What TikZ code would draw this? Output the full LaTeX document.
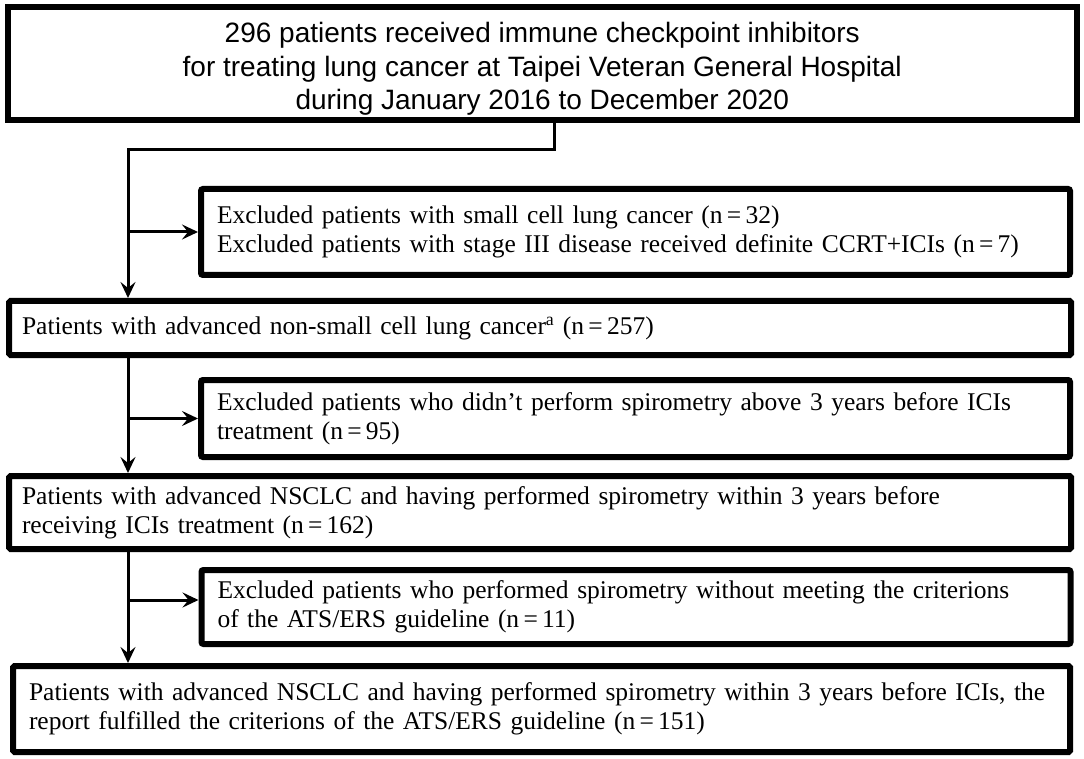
\documentclass[tikz,border=0pt]{standalone}
\usepackage{fontspec}
\setmainfont{Liberation Serif}
\setsansfont{Liberation Sans}
\usetikzlibrary{arrows.meta,positioning,calc}

\begin{document}
\begin{tikzpicture}[x=1pt,y=-1pt,
 topbox/.style={rectangle,draw=black,line width=6pt,align=center,inner sep=0pt,
   font=\sffamily\fontsize{28}{33.5}\selectfont},
 mainbox/.style={rectangle,draw=black,line width=6pt,rounded corners=1.5pt,align=left,
   inner ysep=0pt,font=\fontsize{25.5}{29}\selectfont},
 exclbox/.style={rectangle,draw=black,line width=6pt,rounded corners=2pt,align=left,
   inner xsep=16pt,inner ysep=0pt,text width=837pt,minimum width=869pt,
   font=\fontsize{25.5}{29}\selectfont},
 link/.style={draw,line width=3pt,black},
 ar/.style={link,-{Stealth[length=16pt,width=15pt,inset=6pt]}}]
\useasboundingbox (0,0) rectangle (1084,759);
% boxes
\node [topbox,minimum width=1069.5pt,minimum height=113pt] (top) at (542.25,63.5)
  {\rule{0pt}{31pt}296 patients received immune checkpoint inhibitors\\
   for treating lung cancer at Taipei Veteran General Hospital\\
   during January 2016 to December 2020};
\node [exclbox,minimum height=86pt] (ex1) at (635.5,232)
  {Excluded patients with small cell lung cancer (n\,=\,32)\\
   Excluded patients with stage III disease received definite CCRT+ICIs (n\,=\,7)};
\node [mainbox,inner xsep=13pt,text width=1036pt,minimum width=1062pt,minimum height=54pt] (b2) at (540,328)
  {Patients with advanced non-small cell lung cancer\textsuperscript{a} (n\,=\,257)};
\node [exclbox,minimum height=77pt] (ex2) at (635.5,418.5)
  {Excluded patients who didn't perform spirometry above 3 years before ICIs\\
   treatment (n\,=\,95)};
\node [mainbox,inner xsep=13pt,text width=1036pt,minimum width=1062pt,minimum height=73pt] (b3) at (540,512.5)
  {Patients with advanced NSCLC and having performed spirometry within 3 years before\\
   receiving ICIs treatment (n\,=\,162)};
\node [exclbox,minimum height=74pt] (ex3) at (636,607)
  {Excluded patients who performed spirometry without meeting the criterions\\
   of the ATS/ERS guideline (n\,=\,11)};
\node [mainbox,inner xsep=16pt,text width=1025pt,minimum width=1057pt,minimum height=86pt] (b4) at (541.5,709)
  {Patients with advanced NSCLC and having performed spirometry within 3 years before ICIs, the\\
   report fulfilled the criterions of the ATS/ERS guideline (n\,=\,151)};
% connectors
\coordinate (k1) at (554,150);
\coordinate (k2) at (128,150);
\draw [ar] (top.south -| k1) -- (k1) -- (k2) -- (b2.north -| k2);
\draw [ar] (ex1.west -| k2) -- (ex1.west);
\draw [ar] (b2.south -| k2) -- (b3.north -| k2);
\draw [ar] (ex2.west -| k2) -- (ex2.west);
\draw [ar] (b3.south -| k2) -- (b4.north -| k2);
\draw [ar] ([yshift=7pt]ex3.west -| k2) -- ([yshift=7pt]ex3.west);
\end{tikzpicture}
\end{document}
